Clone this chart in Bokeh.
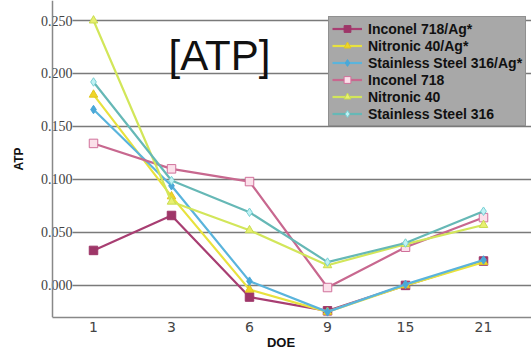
from bokeh.plotting import figure
from bokeh.models import (Range1d, FixedTicker, Label, LabelSet, Legend, LegendItem,
                          ColumnDataSource, Span)
from bokeh.embed import file_html
from bokeh.resources import INLINE

doe = ["1", "3", "6", "9", "15", "21"]
y_ticks = [0.0, 0.05, 0.10, 0.15, 0.20, 0.25]
y_tick_labels = ["0.000", "0.050", "0.100", "0.150", "0.200", "0.250"]

inconel_ag = [0.033, 0.066, -0.011, -0.024, 0.000, 0.023]
nitronic_ag = [0.180, 0.084, -0.004, -0.025, 0.000, 0.022]
ss316_ag = [0.166, 0.094, 0.004, -0.025, 0.001, 0.024]
inconel = [0.134, 0.110, 0.098, -0.002, 0.036, 0.064]
nitronic = [0.250, 0.079, 0.052, 0.019, 0.039, 0.057]
ss316 = [0.192, 0.099, 0.069, 0.022, 0.040, 0.070]

series_names = ["Inconel 718/Ag*", "Nitronic 40/Ag*", "Stainless Steel 316/Ag*",
                "Inconel 718", "Nitronic 40", "Stainless Steel 316"]

xs = list(range(len(doe)))
px_per_cat = 78
x_start = -63 / px_per_cat
x_end = x_start + 501 / px_per_cat
axis_x = x_start + 22 / px_per_cat  # where the chart's vertical axis line sits

p = figure(frame_width=501, frame_height=317, output_backend="svg", toolbar_location=None,
           x_range=Range1d(x_start, x_end), y_range=Range1d(-0.0303, 0.2689),
           min_border_left=30, min_border_right=0, min_border_top=0, min_border_bottom=33)
p.outline_line_color = None
p.background_fill_color = "white"

# horizontal grid lines starting at the vertical axis line
p.xgrid.grid_line_color = None
p.ygrid.grid_line_color = None
p.segment(x0=[axis_x] * len(y_ticks), x1=[x_end] * len(y_ticks), y0=y_ticks, y1=y_ticks,
          line_color="#7a7a7a", line_width=1.5)

styles = [
    (inconel_ag, "#a83e72", "square", "#9e3668", "#9e3668"),
    (nitronic_ag, "#e8e23e", "triangle", "#f0d428", "#e0c820"),
    (ss316_ag, "#5ab4dc", "diamond", "#4aa8d8", "#4aa8d8"),
    (inconel, "#c8688f", "square", "#fbe0ea", "#d0709a"),
    (nitronic, "#d2e65a", "triangle", "#e8f070", "#c8dc50"),
    (ss316, "#66b8b6", "diamond", "#c0f2f4", "#78d0d4"),
]

items = []
for (vals, lc, mk, fc, ec), name in zip(styles, series_names):
    r1 = p.line(xs, vals, line_color=lc, line_width=2.2)
    r2 = p.scatter(xs, vals, marker=mk, size=8.5, fill_color=fc, line_color=ec, line_width=1)
    items.append(LegendItem(label=name, renderers=[r1, r2]))

# y tick labels (they sit over the axis line in the source chart)
ytl = ColumnDataSource(dict(y=y_ticks, text=y_tick_labels))
p.add_layout(LabelSet(x=42, y="y", text="text", source=ytl, x_units="screen", y_units="data",
                      text_align="right", text_baseline="middle", text_font="DejaVu Sans",
                      text_font_size="14px", text_color="#444444",
                      background_fill_color="white"))
p.add_layout(Span(location=axis_x, dimension="height", line_color="#888888", line_width=1.5))

legend = Legend(items=items, location=(298, 191))
legend.background_fill_color = "#a8a8a8"
legend.background_fill_alpha = 1
legend.border_line_color = "#777777"
legend.label_text_font = "Liberation Sans"
legend.label_text_font_style = "bold"
legend.label_text_font_size = "14px"
legend.label_text_color = "#111111"
legend.glyph_width = 30
legend.glyph_height = 17
legend.label_height = 17
legend.spacing = 0
legend.padding = 3
legend.margin = 0
legend.label_standoff = 6
p.add_layout(legend)

# axes
p.yaxis.ticker = FixedTicker(ticks=[])
p.yaxis.major_tick_line_color = None
p.yaxis.minor_tick_line_color = None
p.yaxis.major_tick_out = 0
p.yaxis.minor_tick_out = 0
p.yaxis.major_label_standoff = 0
p.yaxis.axis_line_color = None
p.yaxis.axis_label = "ATP"
p.yaxis.axis_label_text_font = "Liberation Sans"
p.yaxis.axis_label_text_font_style = "bold"
p.yaxis.axis_label_text_font_size = "12px"
p.yaxis.axis_label_text_color = "#111111"
p.yaxis.axis_label_standoff = 5

p.xaxis.ticker = FixedTicker(ticks=xs)
p.xaxis.major_label_overrides = {i: d for i, d in zip(xs, doe)}
p.xaxis.bounds = (axis_x, x_end)
p.xaxis.major_tick_line_color = None
p.xaxis.minor_tick_line_color = None
p.xaxis.major_tick_out = 0
p.xaxis.minor_tick_out = 0
p.xaxis.major_label_standoff = 4
p.xaxis.axis_line_color = "#888888"
p.xaxis.axis_line_width = 1.5
p.xaxis.major_label_text_font = "DejaVu Sans"
p.xaxis.major_label_text_font_size = "14px"
p.xaxis.major_label_text_color = "#444444"
p.xaxis.axis_label = "DOE"
p.xaxis.axis_label_text_font = "Liberation Sans"
p.xaxis.axis_label_text_font_style = "bold"
p.xaxis.axis_label_text_font_size = "13px"
p.xaxis.axis_label_text_color = "#111111"
p.xaxis.axis_label_standoff = 0

p.add_layout(Label(x=138, y=262, x_units="screen", y_units="screen", text="[ATP]",
                   text_font="Liberation Sans", text_font_size="42px", text_color="#111111",
                   text_baseline="alphabetic"))
p.add_layout(Label(x=440, y=299, x_units="screen", y_units="screen", text="SV 0.14 cm²",
                   text_font="Liberation Sans", text_font_size="7px", text_color="#999999",
                   text_baseline="alphabetic"))

open("out.html", "w").write(file_html(p, INLINE))
